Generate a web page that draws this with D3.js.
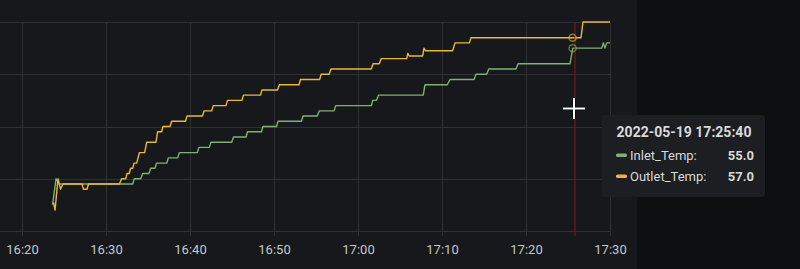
<!DOCTYPE html>
<html>
<head>
<meta charset="utf-8">
<script src="https://cdn.jsdelivr.net/npm/d3@7"></script>
<style>
  html, body { margin: 0; padding: 0; background: #0e0f11; }
  svg { display: block; }
  text { font-family: Roboto, "Noto Sans", sans-serif; }
</style>
</head>
<body>
<div id="chart"></div>
<script>
// Series data (time, temperature)
var outletTimes = ["16:23:45","16:23:56","16:24:17","16:24:35","16:24:53","16:27:09","16:27:19","16:27:44","16:27:55",
    "16:31:36","16:31:51","16:32:21","16:32:30","16:32:46","16:32:56","16:33:11","16:33:20","16:33:39","16:33:49","16:33:58",
    "16:34:36","16:34:51","16:35:57","16:36:09","16:36:38","16:36:47","16:37:37","16:37:49","16:39:28","16:39:39",
    "16:41:29","16:41:41","16:42:35","16:42:46","16:44:17","16:44:28","16:46:11","16:46:22","16:48:24","16:48:34",
    "16:50:25","16:50:38","16:52:59","16:53:09","16:55:26","16:55:37","16:56:34","16:56:47","17:01:35","17:01:47",
    "17:02:32","17:02:46","17:05:48","17:05:56","17:06:06","17:07:42","17:07:51","17:08:02","17:11:16","17:11:33",
    "17:13:16","17:13:27","17:26:33","17:26:47","17:30:00"];
var outletTemp = [25.5,24,30,28,29,29,28,28,29,
    29,30,30,31,31,32,32,33,33,34,35,
    35,37,37,39,39,40,40,41,41,42,
    42,43,43,44,44,45,45,46,46,47,
    47,48,48,49,49,50,50,51,51,52,
    52,53,53,54,53.5,53.5,55,54.5,54.5,56,
    56,57,57,60,60];

var inletTimes = ["16:23:38","16:24:03","16:24:24","16:33:11","16:33:22","16:34:08","16:34:22","16:35:07","16:35:19",
    "16:35:50","16:36:02","16:37:14","16:37:25","16:38:32","16:38:44","16:40:52","16:41:04","16:42:18","16:42:30",
    "16:44:58","16:45:11","16:46:40","16:46:51","16:48:31","16:48:41","16:50:18","16:50:29","16:53:16","16:53:27",
    "16:55:09","16:55:24","16:57:09","16:57:21","17:01:36","17:01:45","17:02:12","17:02:26","17:07:46","17:07:59",
    "17:10:38","17:10:57","17:13:49","17:14:03","17:15:19","17:15:34","17:18:49","17:19:03","17:25:14","17:25:34",
    "17:29:01","17:29:12","17:29:24","17:29:36","17:30:00"];
var inletTemp = [25,30,29,29,30,30,31,31,32,
    32,33,33,34,34,35,35,36,36,37,
    37,38,38,39,39,40,40,41,41,42,
    42,43,43,44,44,45,45,46,46,48,
    48,49,49,50,50,51,51,52,52,55,
    55,56,55,56,56];

var xTicks = ["16:20","16:30","16:40","16:50","17:00","17:10","17:20","17:30"];
var yTicks = [20, 30, 40, 50, 60];

var hoverTime = "17:25:40";
var cursorTime = "17:25:50";
var tooltipTitle = "2022-05-19 17:25:40";
var seriesNames = ["Inlet_Temp", "Outlet_Temp"];
var seriesColors = ["#7eb26d", "#eab839"];
var hoverValues = [55.0, 57.0];

var W = 800, H = 269;
var parseT = d3.timeParse("%Y-%m-%d %H:%M:%S");
function t(s) { return parseT("2022-05-19 " + (s.length === 5 ? s + ":00" : s)); }

var x = d3.scaleTime().domain([t("16:20"), t("17:30")]).range([22, 610]);
var y = d3.scaleLinear().domain([20, 60]).range([231, 22]);
var plotTop = 22, plotBottom = 236;

var svg = d3.select("#chart").append("svg").attr("width", W).attr("height", H);

// panel backgrounds
svg.append("rect").attr("width", 637).attr("height", H).attr("fill", "#17181b");
svg.append("rect").attr("x", 637).attr("width", W - 637).attr("height", H).attr("fill", "#0e0f11");

// grid
svg.append("g").selectAll("line").data(yTicks).enter().append("line")
    .attr("x1", 0).attr("x2", 610)
    .attr("y1", function(d) { return Math.round(y(d)) + 0.5; })
    .attr("y2", function(d) { return Math.round(y(d)) + 0.5; })
    .attr("stroke", "#2f3033").attr("stroke-width", 1);

var xAxis = d3.axisBottom(x)
    .tickValues(xTicks.map(t))
    .tickFormat(d3.timeFormat("%H:%M"))
    .tickSize(-(plotBottom - plotTop))
    .tickPadding(9);

var gx = svg.append("g").attr("transform", "translate(0," + plotBottom + ")").call(xAxis);
gx.select(".domain").remove();
gx.selectAll(".tick line").attr("stroke", "#2f3033");
gx.selectAll(".tick text").attr("fill", "#c5c7ca").style("font-size", "13px")
    .style("font-family", "Roboto, sans-serif");

// series
var line = d3.line()
    .x(function(d) { return x(d[0]); })
    .y(function(d) { return y(d[1]); });

var inletData = inletTimes.map(function(s, i) { return [t(s), inletTemp[i]]; });
var outletData = outletTimes.map(function(s, i) { return [t(s), outletTemp[i]]; });

[inletData, outletData].forEach(function(data, i) {
    svg.append("path")
        .attr("d", line(data))
        .attr("fill", "none")
        .attr("stroke", seriesColors[i])
        .attr("stroke-width", 1.4)
        .attr("stroke-linejoin", "round");
});

// crosshair
svg.append("line")
    .attr("x1", x(t(cursorTime))).attr("x2", x(t(cursorTime)))
    .attr("y1", plotTop).attr("y2", plotBottom)
    .attr("stroke", "#8c1414").attr("stroke-width", 1);

// hover points
hoverValues.forEach(function(v, i) {
    svg.append("circle")
        .attr("cx", x(t(hoverTime)) - 1).attr("cy", y(v)).attr("r", 3.5)
        .attr("fill", "none").attr("stroke", seriesColors[i])
        .attr("stroke-opacity", 0.6).attr("stroke-width", 1.5);
});

// mouse cursor
var mc = svg.append("g").attr("transform", "translate(574,108.5)");
mc.append("path").attr("d", "M-11,0H11M0,-10.5V10.5").attr("stroke", "#000").attr("stroke-width", 3.5);
mc.append("path").attr("d", "M-11,0H11M0,-10.5V10.5").attr("stroke", "#fff").attr("stroke-width", 2);

// tooltip
var tip = svg.append("g").attr("transform", "translate(602,115)");
tip.append("rect").attr("width", 163).attr("height", 82).attr("rx", 4)
    .attr("fill", "#1d1e21");
tip.append("text").attr("x", 82).attr("y", 22).attr("text-anchor", "middle")
    .attr("fill", "#d8d9da").style("font-size", "14px").style("font-weight", "bold")
    .text(tooltipTitle);

seriesNames.forEach(function(name, i) {
    var by = 45 + i * 21;
    tip.append("rect").attr("x", 14).attr("y", by - 6.5).attr("width", 11).attr("height", 3.5)
        .attr("rx", 1.5).attr("fill", seriesColors[i]);
    tip.append("text").attr("x", 28).attr("y", by)
        .attr("fill", "#d8d9da").style("font-size", "13px")
        .text(name + ":");
    tip.append("text").attr("x", 152).attr("y", by).attr("text-anchor", "end")
        .attr("fill", "#d8d9da").style("font-size", "13px").style("font-weight", "bold")
        .text(hoverValues[i].toFixed(1));
});
</script>
</body>
</html>
